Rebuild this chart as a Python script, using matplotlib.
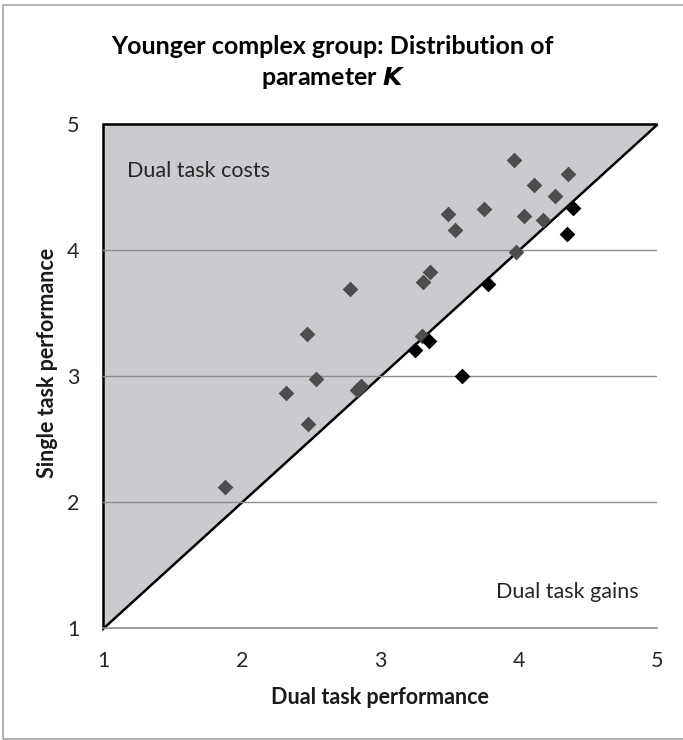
import matplotlib.pyplot as plt
from matplotlib.patches import Polygon, Rectangle

plt.rcParams['font.family'] = ['Lato', 'DejaVu Sans']

# participants above the diagonal (single > dual): dual task costs
cost_dual = [1.88, 2.32, 2.54, 2.83, 2.86, 2.48, 2.47, 2.78, 3.31, 3.36, 3.30,
             3.49, 3.54, 3.75, 3.97, 4.11, 4.04, 4.18, 4.26, 4.36, 3.98]
cost_single = [2.12, 2.87, 2.98, 2.89, 2.92, 2.62, 3.34, 3.69, 3.75, 3.83, 3.32,
               4.29, 4.16, 4.33, 4.72, 4.52, 4.27, 4.24, 4.43, 4.61, 3.99]

# participants on / below the diagonal: dual task gains
gain_dual = [3.25, 3.35, 3.59, 3.78, 4.35, 4.39]
gain_single = [3.21, 3.28, 3.00, 3.73, 4.13, 4.34]

ticks = [1, 2, 3, 4, 5]

fig = plt.figure(figsize=(6.83, 7.40), dpi=100)
ax = fig.add_axes([0.1513, 0.1509, 0.8106, 0.6809])

# chart border
fig.patches.append(Rectangle((0.0045, 0.0015), 1.2, 0.9915, transform=fig.transFigure,
                             fill=False, edgecolor='#a6a6a6', linewidth=1.2))

ax.set_xlim(1, 5)
ax.set_ylim(1, 5)

tri = Polygon([(1, 1), (1, 5), (5, 5)], closed=True, facecolor='#c9cbce',
              edgecolor='black', linewidth=1.8, zorder=1, clip_on=False)
ax.add_patch(tri)

for t in [2, 3, 4]:
    ax.axhline(t, color='#8c8c8c', linewidth=1.0, zorder=2)
ax.axhline(1, color='#8c8c8c', linewidth=1.2, zorder=2, clip_on=False)

ax.scatter(cost_dual, cost_single, marker='D', s=64, color='#4d4d4d',
           linewidths=0, zorder=4)
ax.scatter(gain_dual, gain_single, marker='D', s=64, color='black',
           linewidths=0, zorder=4)

for s in ax.spines.values():
    s.set_visible(False)

ax.set_xticks(ticks)
ax.set_yticks(ticks)
ax.set_xticklabels([str(t) for t in ticks])
ax.set_yticklabels([str(t) for t in ticks])
ax.tick_params(length=0, labelsize=15.5, labelcolor='#262626')
ax.tick_params(axis='x', pad=16)
ax.tick_params(axis='y', pad=17)

ax.text(1.17, 4.63, 'Dual task costs', fontsize=15.5, color='#262626', va='center')
ax.text(4.87, 1.29, 'Dual task gains', fontsize=15.5, color='#262626',
        va='center', ha='right')

fig.text(0.556, 0.058, 'Dual task performance', fontsize=15.5, fontweight='bold',
         ha='center', va='center', color='#1a1a1a')
fig.text(0.069, 0.509, 'Single task performance', fontsize=15.5, fontweight='bold',
         ha='center', va='center', rotation=90, color='#1a1a1a')

fig.text(0.487, 0.937, 'Younger complex group: Distribution of', fontsize=18,
         fontweight='bold', ha='center', va='center', color='black')
fig.text(0.487, 0.895, 'parameter $\\boldsymbol{K}$', fontsize=18,
         fontweight='bold', ha='center', va='center', color='black')

fig.savefig('out.png', dpi=100)
